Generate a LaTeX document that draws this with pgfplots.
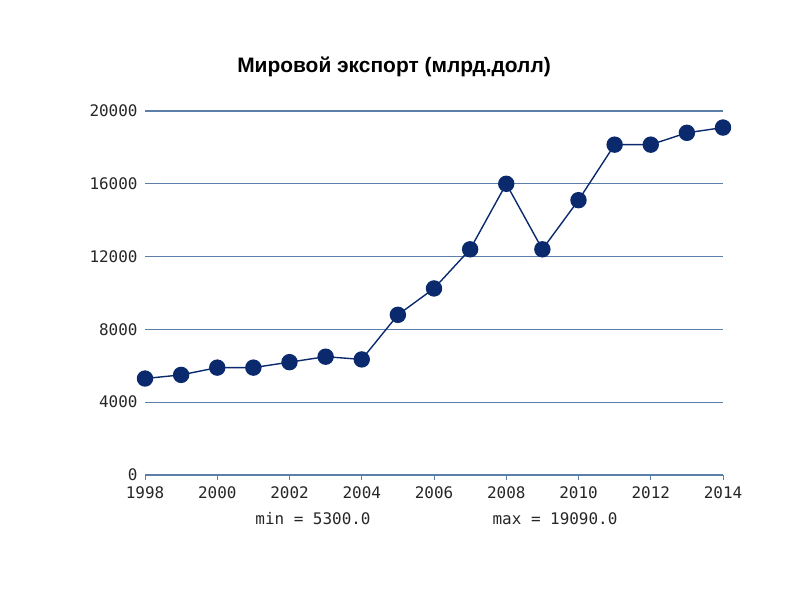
\documentclass[border=0pt]{standalone}
\usepackage{pgfplots}
\pgfplotsset{compat=1.18}
\usepackage{fontspec}
\setmainfont{Liberation Sans}
\newfontfamily\monofont{DejaVu Sans Mono}
\definecolor{gridc}{HTML}{5B7FA8}
\definecolor{navy}{HTML}{0B2A6E}
\begin{document}
\begin{tikzpicture}[x=1bp,y=1bp]
\path[use as bounding box] (0,0) rectangle (800,600);
\node[font=\fontsize{21}{25}\selectfont\bfseries] at (394,533) {Мировой экспорт (млрд.долл)};
\begin{axis}[
  at={(145bp,125bp)}, anchor=south west,
  scale only axis, width=578bp, height=364bp,
  xmin=1998, xmax=2014, ymin=0, ymax=20000,
  clip=false,
  axis x line*=bottom, axis y line*=left,
  x axis line style={gridc, line width=1.2bp, -},
  y axis line style={draw=none},
  xtick={1998,2000,...,2014},
  ytick={0,4000,...,20000},
  scaled y ticks=false,
  ymajorgrids, grid style={gridc, line width=1.3bp},
  xtick style={gridc, line width=1bp},
  ytick style={draw=none},
  tick align=outside, major tick length=5bp,
  /pgf/number format/1000 sep={},
  /pgf/number format/assume math mode=true,
  tick label style={font=\monofont\fontsize{16}{18}\selectfont, text=black!85},
  xticklabel style={yshift=-3bp},
  yticklabel style={xshift=1bp},
]
\addplot[navy, line width=1.4bp, mark=*, mark size=7.5bp, mark options={fill=navy, draw=navy}] coordinates {
(1998,5300) (1999,5500) (2000,5900) (2001,5900) (2002,6200) (2003,6500) (2004,6350)
(2005,8800) (2006,10250) (2007,12400) (2008,16000) (2009,12400) (2010,15100)
(2011,18150) (2012,18150) (2013,18800) (2014,19090)
};
\end{axis}
\node[font=\monofont\fontsize{16}{18}\selectfont, text=black!85] at (313,81) {min = 5300.0};
\node[font=\monofont\fontsize{16}{18}\selectfont, text=black!85] at (555,81) {max = 19090.0};
\end{tikzpicture}
\end{document}
